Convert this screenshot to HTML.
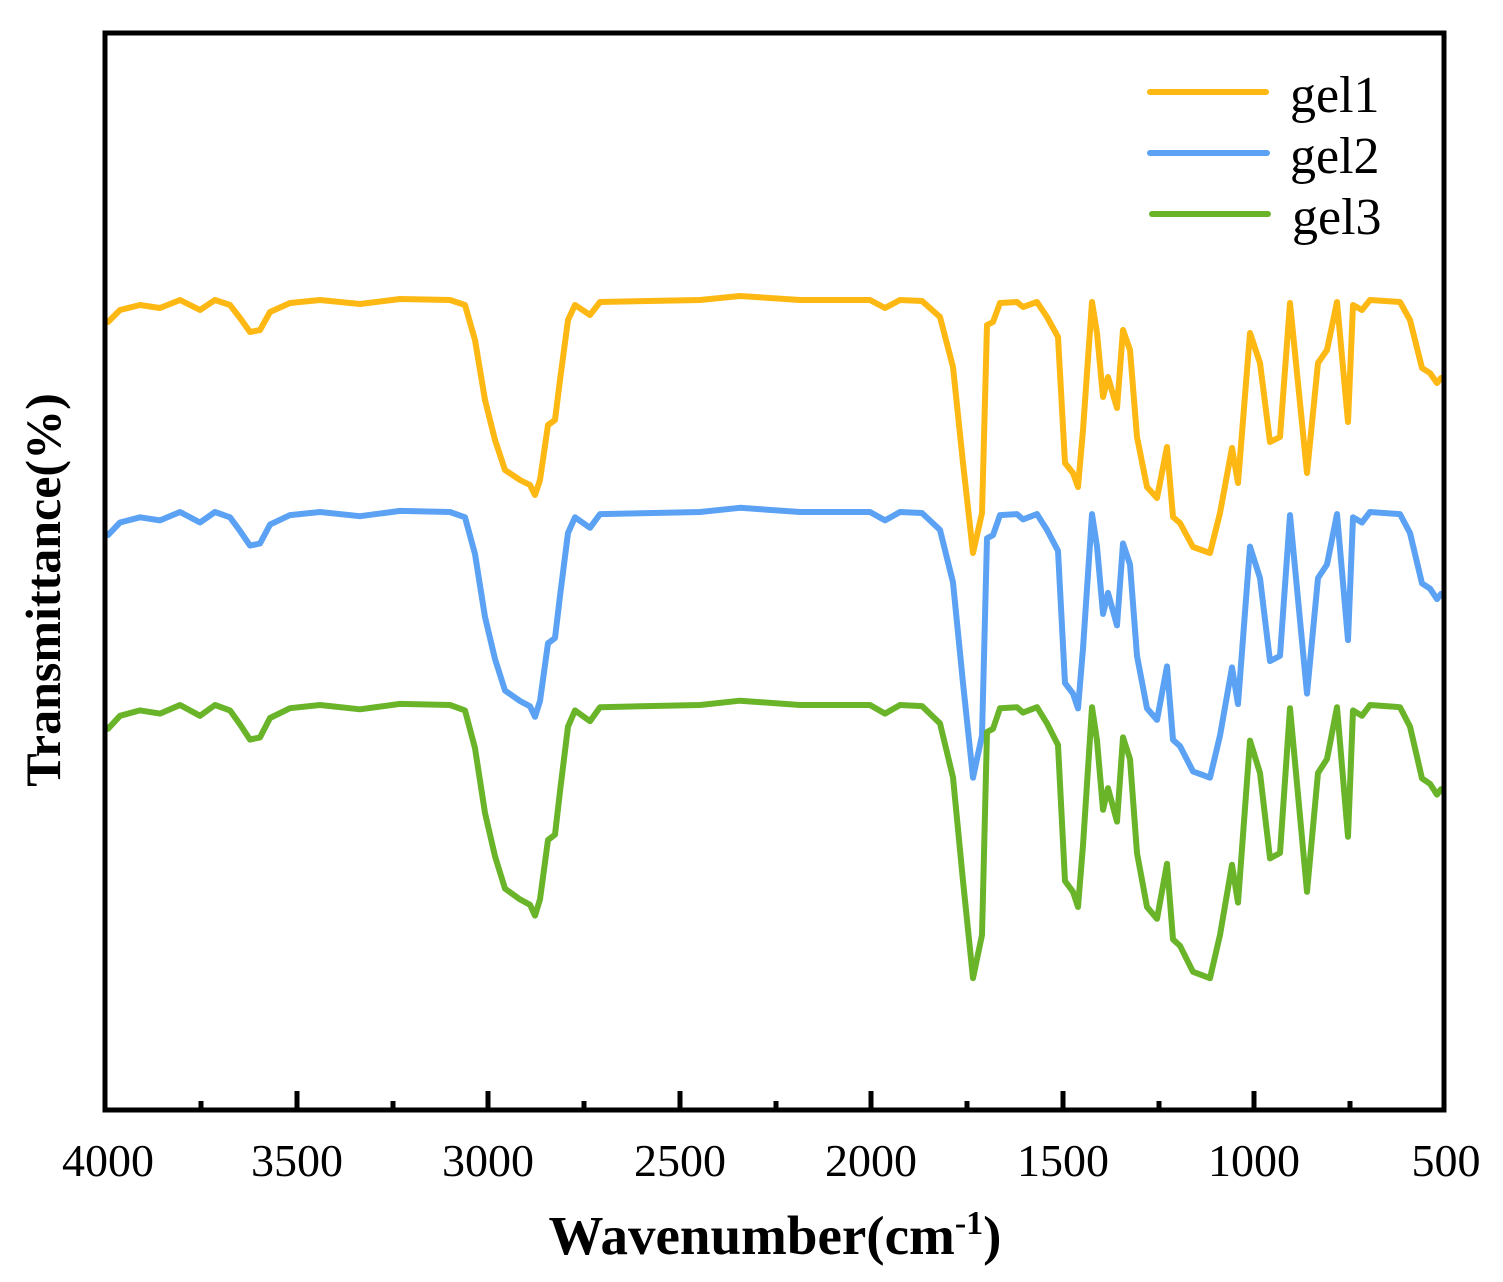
<!DOCTYPE html>
<html><head><meta charset="utf-8"><style>
html,body{margin:0;padding:0;background:#fff}
svg{display:block}
text{font-family:"Liberation Serif",serif;fill:#000}
</style></head><body>
<svg id="s" width="1503" height="1282" viewBox="0 0 1503 1282" xmlns="http://www.w3.org/2000/svg">
<rect x="0" y="0" width="1503" height="1282" fill="#fff"/>
<g id="curves" fill="none" stroke-width="6" stroke-linejoin="round" stroke-linecap="round"></g>
<rect x="105" y="33" width="1339" height="1077" fill="none" stroke="#000" stroke-width="5"/>
<g stroke="#000" stroke-width="5">
<line x1="297" y1="1110" x2="297" y2="1091"/><line x1="488" y1="1110" x2="488" y2="1091"/>
<line x1="680" y1="1110" x2="680" y2="1091"/><line x1="871" y1="1110" x2="871" y2="1091"/>
<line x1="1063" y1="1110" x2="1063" y2="1091"/><line x1="1254" y1="1110" x2="1254" y2="1091"/>
<line x1="201" y1="1110" x2="201" y2="1101"/><line x1="393" y1="1110" x2="393" y2="1101"/>
<line x1="584" y1="1110" x2="584" y2="1101"/><line x1="776" y1="1110" x2="776" y2="1101"/>
<line x1="967" y1="1110" x2="967" y2="1101"/><line x1="1159" y1="1110" x2="1159" y2="1101"/>
<line x1="1350" y1="1110" x2="1350" y2="1101"/>
</g>
<g font-size="46" text-anchor="middle">
<text x="108" y="1176">4000</text><text x="297" y="1176">3500</text><text x="488" y="1176">3000</text>
<text x="680" y="1176">2500</text><text x="871" y="1176">2000</text><text x="1063" y="1176">1500</text>
<text x="1254" y="1176">1000</text><text x="1446" y="1176">500</text>
</g>
<text x="775" y="1254" font-size="55" font-weight="bold" text-anchor="middle">Wavenumber(cm<tspan dy="-20" font-size="34">-1</tspan><tspan dy="20">)</tspan></text>
<text transform="translate(60,590) rotate(-90)" font-size="50" font-weight="bold" text-anchor="middle">Transmittance(%)</text>
<g stroke-width="6" stroke-linecap="round">
<line x1="1150" y1="92" x2="1266" y2="92" stroke="#FDB813"/>
<line x1="1150" y1="153" x2="1267" y2="153" stroke="#5BA2F4"/>
<line x1="1152" y1="214" x2="1268" y2="214" stroke="#6AB42A"/>
</g>
<g font-size="52"><text x="1290" y="112">gel1</text><text x="1290" y="173">gel2</text><text x="1292" y="234">gel3</text></g>
</svg>
<script>
var P=[[108,322],[120,310],[140,305],[160,308],[180,300],[200,310],[215,300],[230,305],[240,318],[250,332],[260,330],[270,312],[290,303],[320,300],[360,304],[400,299],[450,300],[465,305],[475,340],[485,400],[495,440],[505,470],[520,480],[530,485],[535,495],[540,480],[548,425],[555,420],[560,380],[568,320],[575,305],[590,315],[600,302],[700,300],[740,296],[800,300],[870,300],[885,308],[900,300],[922,301],[940,317],[953,367],[963,463],[973,553],[982,513],[987,325],[993,322],[1000,303],[1017,302],[1023,307],[1037,302],[1047,317],[1058,337],[1065,463],[1073,473],[1078,487],[1083,430],[1092,302],[1097,333],[1103,397],[1108,377],[1117,408],[1123,330],[1130,350],[1137,437],[1147,487],[1157,498],[1167,447],[1173,517],[1180,523],[1193,547],[1210,553],[1220,513],[1232,448],[1238,483],[1250,333],[1260,363],[1270,442],[1280,437],[1290,303],[1307,473],[1318,363],[1327,350],[1337,302],[1348,422],[1353,305],[1362,310],[1370,300],[1400,302],[1410,320],[1422,368],[1430,373],[1437,383],[1441,378]];
var S=[["#FDB813",300,1.0],["#5BA2F4",512,1.05],["#6AB42A",705,1.08]];
var g=document.getElementById("curves"),h="";
S.forEach(function(s){var d=P.map(function(p,i){return (i?"L":"M")+p[0]+" "+(s[1]+s[2]*(p[1]-300)).toFixed(1)}).join("");
h+='<path d="'+d+'" stroke="'+s[0]+'"/>';});
g.innerHTML=h;
</script>
</body></html>
